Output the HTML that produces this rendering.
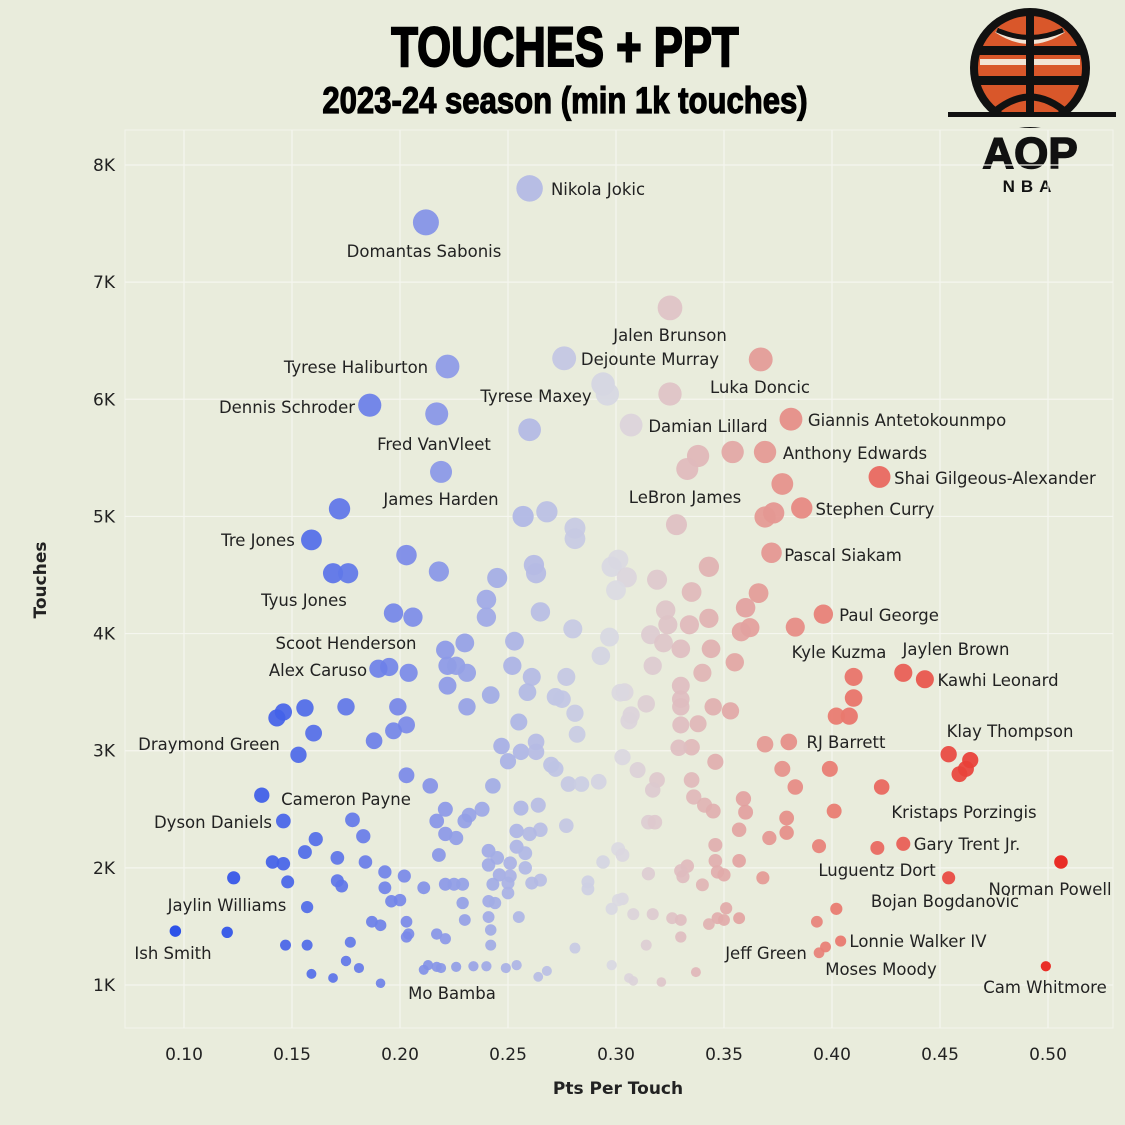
<!DOCTYPE html>
<html><head><meta charset="utf-8">
<style>
html,body{margin:0;padding:0;background:#e9ecdc;}
svg{display:block;font-family:"DejaVu Sans","Liberation Sans",sans-serif;}
</style></head>
<body>
<svg id="chart" width="1125" height="1125" viewBox="0 0 1125 1125" xmlns="http://www.w3.org/2000/svg">
<rect x="0" y="0" width="1125" height="1125" fill="#e9ecdc"/>
<g>
<text x="565" y="66" text-anchor="middle" font-family="Liberation Sans, sans-serif" font-weight="900" font-size="56" stroke="#000" stroke-width="2" transform="translate(565 0) scale(0.78 1) translate(-565 0)" fill="#000">TOUCHES + PPT</text>
</g>
<g>
<text x="565" y="113" text-anchor="middle" font-family="Liberation Sans, sans-serif" font-weight="900" font-size="37" stroke="#000" stroke-width="1.2" transform="translate(565 0) scale(0.84 1) translate(-565 0)" fill="#000">2023-24 season (min 1k touches)</text>
</g>
<g>
<circle cx="1030" cy="68" r="60" fill="#111"/>
<circle cx="1030" cy="68" r="52" fill="#d9572a"/>
<rect x="976" y="46" width="108" height="9" fill="#111"/>
<rect x="976" y="76" width="108" height="9" fill="#111"/>
<rect x="980" y="59" width="100" height="6" fill="#f2e4d4"/>
<path d="M997 30 Q1030 52 1063 30" stroke="#f2e4d4" stroke-width="6" fill="none"/>
<path d="M997 30 Q1030 45 1063 30" stroke="#111" stroke-width="5" fill="none"/>
<rect x="1026" y="10" width="8" height="104" fill="#111"/>
<path d="M992 114 Q1030 80 1068 114" stroke="#111" stroke-width="7" fill="none"/>
<rect x="948" y="115" width="168" height="12" fill="#e9ecdc"/>
<rect x="948" y="112" width="168" height="5" fill="#111"/>
<text x="1030" y="168" text-anchor="middle" font-family="Liberation Sans, sans-serif" font-weight="900" font-size="44" stroke="#111" stroke-width="1.5" fill="#111">AOP</text>
<text x="1030" y="192" text-anchor="middle" font-family="Liberation Sans, sans-serif" font-weight="900" font-size="17" letter-spacing="6" fill="#111">NBA</text>
</g>
<g id="grid"></g>
<g id="axes"></g>
<g id="points"></g>
<g id="labels"></g>
<text x="618" y="1094" text-anchor="middle" font-weight="bold" font-size="17" fill="#222">Pts Per Touch</text>
<text x="46" y="580" text-anchor="middle" font-weight="bold" font-size="17" fill="#222" transform="rotate(-90 46 580)">Touches</text>
</svg>
<script>
const xTicks = [0.10,0.15,0.20,0.25,0.30,0.35,0.40,0.45,0.50];
const yTicks = [1000,2000,3000,4000,5000,6000,7000,8000];
const yTickLabels = ["1K","2K","3K","4K","5K","6K","7K","8K"];
const ppt = [0.260,0.212,0.325,0.276,0.367,0.222,0.294,0.296,0.325,0.186,0.381,0.217,0.307,0.260,0.369,0.354,0.338,0.333,0.219,0.422,0.377,0.386,0.373,0.369,0.268,0.257,0.172,0.328,0.281,0.281,0.159,0.372,0.203,0.301,0.262,0.298,0.343,0.218,0.263,0.305,0.245,0.169,0.176,0.319,0.300,0.335,0.366,0.240,0.360,0.323,0.396,0.265,0.197,0.206,0.240,0.343,0.324,0.334,0.362,0.358,0.383,0.280,0.297,0.316,0.322,0.253,0.230,0.221,0.344,0.330,0.293,0.222,0.226,0.231,0.317,0.355,0.252,0.195,0.190,0.204,0.340,0.410,0.433,0.443,0.261,0.277,0.222,0.330,0.259,0.272,0.302,0.304,0.242,0.410,0.330,0.314,0.275,0.330,0.156,0.175,0.199,0.231,0.345,0.353,0.281,0.307,0.408,0.402,0.146,0.143,0.306,0.255,0.203,0.338,0.197,0.160,0.282,0.330,0.188,0.247,0.369,0.380,0.263,0.335,0.329,0.153,0.256,0.263,0.250,0.303,0.346,0.454,0.464,0.459,0.462,0.270,0.272,0.377,0.399,0.310,0.203,0.319,0.335,0.278,0.284,0.292,0.214,0.243,0.317,0.383,0.423,0.136,0.336,0.359,0.341,0.264,0.256,0.360,0.221,0.345,0.238,0.401,0.232,0.230,0.217,0.178,0.146,0.379,0.277,0.315,0.318,0.357,0.260,0.254,0.265,0.221,0.226,0.183,0.161,0.379,0.371,0.433,0.421,0.394,0.346,0.241,0.301,0.303,0.254,0.156,0.258,0.218,0.251,0.245,0.171,0.184,0.141,0.146,0.294,0.346,0.357,0.333,0.241,0.347,0.350,0.506,0.193,0.202,0.330,0.258,0.251,0.123,0.246,0.315,0.368,0.331,0.454,0.148,0.171,0.173,0.221,0.225,0.229,0.243,0.250,0.265,0.261,0.211,0.193,0.287,0.287,0.340,0.200,0.196,0.250,0.241,0.301,0.303,0.157,0.229,0.244,0.402,0.351,0.298,0.308,0.317,0.326,0.347,0.357,0.350,0.393,0.241,0.255,0.230,0.203,0.187,0.191,0.343,0.330,0.096,0.120,0.242,0.204,0.217,0.203,0.330,0.404,0.397,0.394,0.221,0.147,0.157,0.177,0.242,0.281,0.314,0.175,0.181,0.213,0.217,0.211,0.219,0.226,0.234,0.240,0.254,0.249,0.159,0.169,0.268,0.264,0.306,0.308,0.321,0.298,0.337,0.191,0.499];
const touches = [7800,7510,6780,6350,6340,6280,6130,6045,6045,5950,5830,5875,5780,5740,5550,5550,5516,5405,5380,5337,5277,5072,5030,4995,5040,5000,5065,4930,4900,4810,4800,4690,4670,4630,4585,4570,4570,4530,4515,4480,4475,4515,4515,4460,4370,4355,4345,4290,4220,4200,4165,4185,4175,4140,4140,4130,4075,4075,4050,4015,4055,4040,3970,3990,3920,3935,3920,3860,3870,3870,3810,3725,3725,3665,3725,3755,3725,3715,3700,3665,3665,3630,3665,3610,3630,3630,3555,3555,3500,3460,3495,3500,3475,3450,3440,3400,3440,3375,3365,3375,3375,3375,3375,3340,3320,3305,3295,3295,3330,3280,3255,3245,3220,3230,3170,3150,3140,3220,3085,3040,3055,3075,3075,3030,3025,2965,2990,2990,2910,2945,2905,2970,2920,2800,2845,2880,2845,2845,2845,2835,2790,2750,2750,2715,2715,2735,2700,2700,2665,2690,2690,2620,2605,2590,2535,2535,2510,2475,2500,2485,2500,2485,2450,2400,2400,2410,2400,2425,2360,2390,2390,2325,2290,2315,2325,2290,2255,2270,2245,2300,2255,2205,2170,2185,2195,2145,2160,2110,2180,2135,2125,2110,2040,2085,2085,2050,2050,2035,2050,2060,2060,2015,2025,1965,1940,2050,1965,1930,1975,2000,1930,1915,1940,1950,1915,1925,1915,1880,1890,1845,1860,1860,1860,1860,1870,1895,1870,1830,1830,1880,1820,1855,1725,1715,1785,1715,1725,1735,1665,1700,1700,1650,1655,1650,1605,1605,1570,1570,1570,1555,1540,1580,1580,1555,1540,1540,1510,1520,1555,1460,1450,1470,1435,1435,1410,1410,1375,1325,1275,1395,1340,1340,1365,1340,1315,1340,1205,1145,1170,1155,1130,1145,1155,1160,1160,1170,1145,1095,1060,1120,1070,1060,1035,1025,1170,1110,1015,1160];
const labelNames = ["Nikola Jokic","Domantas Sabonis","Jalen Brunson","Dejounte Murray","Tyrese Haliburton","Luka Doncic","Tyrese Maxey","Dennis Schroder","Giannis Antetokounmpo","Damian Lillard","Fred VanVleet","Anthony Edwards","Shai Gilgeous-Alexander","LeBron James","James Harden","Stephen Curry","Tre Jones","Pascal Siakam","Tyus Jones","Paul George","Scoot Henderson","Jaylen Brown","Kyle Kuzma","Alex Caruso","Kawhi Leonard","Klay Thompson","RJ Barrett","Draymond Green","Cameron Payne","Kristaps Porzingis","Dyson Daniels","Gary Trent Jr.","Luguentz Dort","Norman Powell","Bojan Bogdanovic","Jaylin Williams","Lonnie Walker IV","Ish Smith","Jeff Green","Moses Moody","Mo Bamba","Cam Whitmore"];
// annotation anchor positions (label centres, pixels)
const labelPos = [[598,189],[424,251],[670,335],[650,359],[356,367],[760,387],[536,396],[287,407],[907,420],[708,426],[434,444],[855,453],[995,478],[685,497],[441,499],[875,509],[258,540],[843,555],[304,600],[889,615],[346,643],[956,649],[839,652],[318,670],[998,680],[1010,731],[846,742],[209,744],[346,799],[964,812],[213,822],[967,844],[877,870],[1050,889],[945,901],[227,905],[918,941],[173,953],[766,953],[881,969],[452,993],[1045,987]];
const X0=184, XS=2160, Y0=985, YS=0.117143;
const xScale = v => X0 + (v-0.1)*XS;
const yScale = v => Y0 - (v-1000)*YS;
const NS="http://www.w3.org/2000/svg";
function mk(tag, attrs){const e=document.createElementNS(NS,tag);for(const k in attrs)e.setAttribute(k,attrs[k]);return e;}
function lerp(a,b,t){return a.map((v,i)=>Math.round(v+(b[i]-v)*t));}
function colorFor(v){
  const stops=[[0.10,[28,68,232]],[0.20,[118,135,232]],[0.30,[218,218,226]],[0.40,[232,122,112]],[0.50,[232,28,22]]];
  if(v<=stops[0][0])return 'rgb('+stops[0][1]+')';
  for(let i=0;i<stops.length-1;i++){if(v<=stops[i+1][0]){const t=(v-stops[i][0])/(stops[i+1][0]-stops[i][0]);return 'rgb('+lerp(stops[i][1],stops[i+1][1],t)+')';}}
  return 'rgb('+stops[4][1]+')';
}
const grid=document.getElementById('grid'), axes=document.getElementById('axes');
grid.appendChild(mk('rect',{x:125,y:130,width:988,height:898,fill:'none',stroke:'#f3f4ec','stroke-width':1}));
xTicks.forEach(t=>{
  const x=xScale(t);
  const l=mk('line',{x1:x,x2:x,y1:130,y2:1028,stroke:'#f5f6ef','stroke-width':1.2});
  
  
  grid.appendChild(l);
  const tx=mk('text',{x:x,y:1060,'text-anchor':'middle','font-size':17,fill:'#222'});
  tx.textContent=t.toFixed(2);
  
  
  axes.appendChild(tx);
});
yTicks.forEach((t,i)=>{
  const y=yScale(t);
  const l=mk('line',{x1:125,x2:1113,y1:y,y2:y,stroke:'#f5f6ef','stroke-width':1.2});
  
  
  grid.appendChild(l);
  const tx=mk('text',{x:115,y:y+6,'text-anchor':'end','font-size':17,fill:'#222'});
  tx.textContent=yTickLabels[i];
  
  
  axes.appendChild(tx);
});
const pg=document.getElementById('points');
const order=ppt.map((v,i)=>i).sort((a,b)=>touches[b]-touches[a]);
order.forEach(i=>{
  const c=mk('circle',{cx:xScale(ppt[i]),cy:yScale(touches[i]),r:Math.sqrt(touches[i])*0.15,fill:colorFor(ppt[i]),'fill-opacity':0.92});
  
  
  pg.appendChild(c);
});
const lg=document.getElementById('labels');
labelNames.forEach((n,i)=>{
  const t=mk('text',{x:labelPos[i][0],y:labelPos[i][1]+6,'text-anchor':'middle','font-size':16.5,fill:'#222'});
  t.textContent=n;
  
  
  lg.appendChild(t);
});
</script>
</body></html>
